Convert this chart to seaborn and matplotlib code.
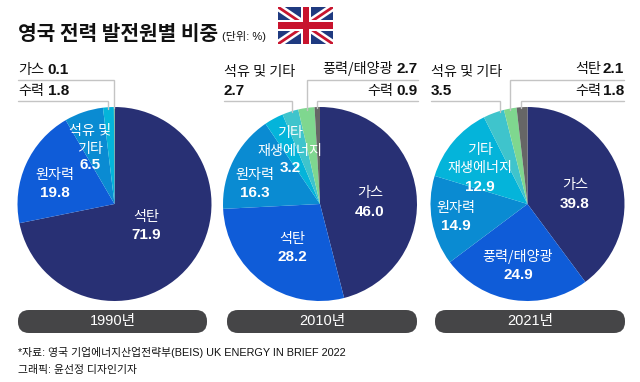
import matplotlib
matplotlib.use("Agg")
import matplotlib.pyplot as plt
from matplotlib.patches import FancyBboxPatch, Rectangle
import seaborn as sns

sns.set_theme(style="white")
plt.rcParams['font.family'] = ['Noto Sans CJK KR', 'DejaVu Sans']
LATIN = ['Liberation Sans', 'Noto Sans CJK KR']

NAVY, BLUE, MID, CYAN, TEAL, GREEN, GRAY = '#283074', '#0f5cd8', '#0a8bd2', '#04b4da', '#3fc4cc', '#7fd78f', '#666666'
palette = sns.color_palette([NAVY, BLUE, MID, CYAN, TEAL, GREEN, GRAY])

years = ['1990년', '2010년', '2021년']
values_1990 = [71.9, 19.8, 6.5, 1.8, 0.1]
colors_1990 = [palette[0], palette[1], palette[2], palette[3], palette[5]]
values_2010 = [46.0, 28.2, 16.3, 3.2, 2.7, 2.7, 0.9]
values_2021 = [39.8, 24.9, 14.9, 12.9, 3.5, 2.1, 1.8]
colors_full = list(palette)

W, H = 640, 382
fig = plt.figure(figsize=(W / 100, H / 100), dpi=100, facecolor='white')

over = fig.add_axes([0, 0, 1, 1], zorder=5)
over.set_xlim(0, W)
over.set_ylim(H, 0)
over.axis('off')
over.patch.set_alpha(0)

def pie(cx, vals, cols, cy=204, r=97):
    ax = fig.add_axes([(cx - r) / W, 1 - (cy + r) / H, 2 * r / W, 2 * r / H], zorder=1)
    ax.pie(vals, colors=cols, startangle=90, counterclock=False, radius=1,
           wedgeprops=dict(linewidth=0))
    ax.set_xlim(-1, 1)
    ax.set_ylim(-1, 1)

pie(114.5, values_1990, colors_1990)
pie(320, values_2010, colors_full)
pie(527.5, values_2021, colors_full)

LINE = '#c4c4c4'
leaders = [
    ([18, 114, 114], [79.5, 79.5, 108]),
    ([18, 107.5, 107.5], [100.5, 100.5, 109]),
    ([224, 291.5, 291.5], [100.5, 100.5, 112]),
    ([418, 307, 307], [79.5, 79.5, 110]),
    ([418, 317, 317], [100.5, 100.5, 108]),
    ([431, 499.5, 499.5], [100.5, 100.5, 112]),
    ([624, 510, 510], [79.5, 79.5, 110]),
    ([624, 521, 521], [100.5, 100.5, 108]),
]
for xs, ys in leaders:
    over.plot(xs, ys, color=LINE, lw=1, solid_joinstyle='miter')

def t(x, y, s, size=10.2, weight='normal', color='#111111', ha='center', family=None):
    over.text(x, y, s, fontsize=size, fontweight=weight, color=color, ha=ha, va='center', family=family)

def num(x, y, s, color='#111111', ha='left'):
    t(x, y, s, size=11, weight='bold', color=color, ha=ha, family=LATIN)

# title
t(18, 33, '영국 전력 발전원별 비중', size=14.6, weight='bold', ha='left')
t(222, 36, '(단위: %)', size=8, ha='left', family=LATIN)

# outside labels: name + bold value
t(18, 70, '가스', ha='left'); num(47, 70, '0.1')
t(18, 91, '수력', ha='left'); num(48, 91, '1.8')
t(224, 72, '석유 및 기타', ha='left'); num(224, 91, '2.7')
num(418, 69, '2.7', ha='right'); t(393, 69, '풍력/태양광', ha='right')
num(418, 91, '0.9', ha='right'); t(393, 91, '수력', ha='right')
t(431, 72, '석유 및 기타', ha='left'); num(431, 91, '3.5')
num(624, 69, '2.1', ha='right'); t(601, 69, '석탄', ha='right')
num(624, 91, '1.8', ha='right'); t(601, 91, '수력', ha='right')

# inside labels
WHT = 'white'
inside = [
    (90, 131, '석유 및', 0), (90, 149, '기타', 0), (90, 165, '6.5', 1),
    (55, 175, '원자력', 0), (55, 193, '19.8', 1),
    (146, 217, '석탄', 0), (146, 235, '71.9', 1),
    (290, 133, '기타', 0), (290, 151, '재생에너지', 0), (290, 168, '3.2', 1),
    (255, 175, '원자력', 0), (255, 193, '16.3', 1),
    (370, 193, '가스', 0), (370, 212, '46.0', 1),
    (292, 239, '석탄', 0), (292, 257, '28.2', 1),
    (480, 150, '기타', 0), (480, 168, '재생에너지', 0), (480, 187, '12.9', 1),
    (456, 208, '원자력', 0), (456, 226, '14.9', 1),
    (575, 185, '가스', 0), (575, 204, '39.8', 1),
    (518, 257, '풍력/태양광', 0), (518, 275, '24.9', 1),
]
for x, y, s, b in inside:
    if b:
        num(x, y, s, color=WHT, ha='center')
    else:
        t(x, y, s, color=WHT)

# year pills
for (x0, x1), y_ in zip([(18, 207), (227, 417), (435, 625)], years):
    over.add_patch(FancyBboxPatch((x0, 310), x1 - x0, 23,
                                  boxstyle='round,pad=0,rounding_size=11',
                                  facecolor='#454547', edgecolor='none'))
    t((x0 + x1) / 2, 321, y_, size=10.5, color=WHT, family=LATIN)

# footer
t(18, 352, '*자료: 영국 기업에너지산업전략부(BEIS) UK ENERGY IN BRIEF 2022', size=7.8, ha='left', family=LATIN)
t(18, 370, '그래픽: 윤선정 디자인기자', size=7.8, ha='left', family=LATIN)

# flag
fx0, fx1, fy0, fy1 = 278, 333, 7, 44
over.add_patch(Rectangle((fx0, fy0), fx1 - fx0, fy1 - fy0, facecolor='#1f3a80', edgecolor='none'))
flag_clip = Rectangle((fx0, fy0), fx1 - fx0, fy1 - fy0, transform=over.transData)
for (a, b), lw, c in [(((fx0, fy0), (fx1, fy1)), 5.5, 'white'), (((fx0, fy1), (fx1, fy0)), 5.5, 'white'),
                      (((fx0, fy0), (fx1, fy1)), 2.0, '#c8142e'), (((fx0, fy1), (fx1, fy0)), 2.0, '#c8142e')]:
    l, = over.plot([a[0], b[0]], [a[1], b[1]], color=c, lw=lw, solid_capstyle='butt')
    l.set_clip_path(flag_clip)
mx, my = (fx0 + fx1) / 2, (fy0 + fy1) / 2
over.add_patch(Rectangle((mx - 5, fy0), 10, fy1 - fy0, facecolor='white', edgecolor='none', zorder=3))
over.add_patch(Rectangle((fx0, my - 5.5), fx1 - fx0, 11, facecolor='white', edgecolor='none', zorder=3))
over.add_patch(Rectangle((mx - 3, fy0), 6, fy1 - fy0, facecolor='#c8142e', edgecolor='none', zorder=4))
over.add_patch(Rectangle((fx0, my - 3.2), fx1 - fx0, 6.4, facecolor='#c8142e', edgecolor='none', zorder=4))

fig.savefig('out.png', dpi=100, facecolor='white')
